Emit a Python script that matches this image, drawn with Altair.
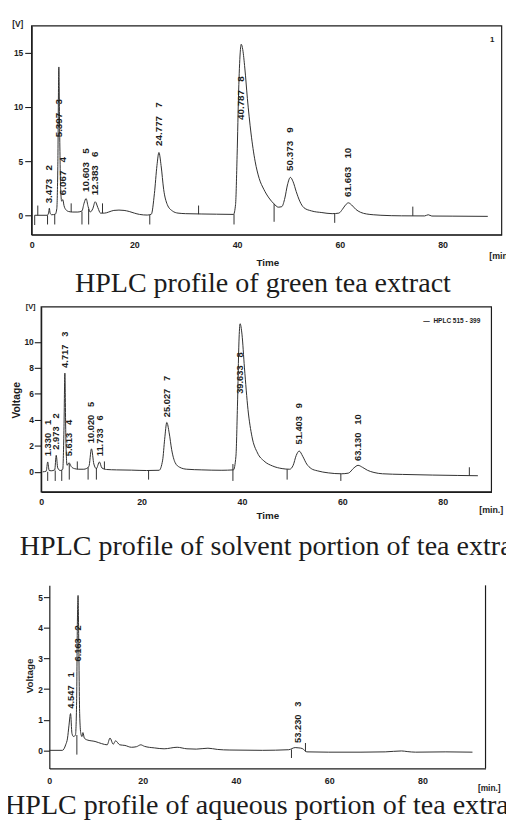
import altair as alt
import pandas as pd

# ---------------- green tea extract ----------------
green_time = [0.6, 3.0, 3.3, 3.45, 3.6, 3.9, 4.6, 4.9, 5.1, 5.3,
              5.45, 5.65, 5.85, 6.07, 6.3, 6.7, 7.2, 8.0, 9.0, 9.8,
              10.2, 10.6, 11.0, 11.4, 11.9, 12.38, 12.9, 13.4, 14.2, 15.0,
              16.0, 17.0, 18.0, 19.0, 20.0, 21.0, 22.5, 23.3, 23.9, 24.4,
              24.78, 25.2, 25.7, 26.4, 27.4, 28.5, 30.0, 33.0, 36.0, 39.3,
              39.7, 40.0, 40.3, 40.6, 40.8, 41.1, 41.5, 42.0, 42.7, 43.5,
              44.3, 45.2, 46.2, 47.2, 48.0, 48.7, 49.3, 49.8, 50.37, 50.9,
              51.5, 52.2, 53.0, 54.5, 56.5, 58.5, 59.8, 60.5, 61.1, 61.66,
              62.3, 63.1, 64.0, 65.2, 66.5, 68.0, 72.0, 76.5, 77.2, 77.9,
              82.0, 88.8]
green_volt = [0.0, 0.0, 0.2, 0.65, 0.2, 0.05, 0.1, 0.6, 4.5, 13.7,
              8.0, 2.5, 1.3, 1.45, 0.9, 0.5, 0.35, 0.3, 0.3, 0.4,
              1.1, 1.55, 0.8, 0.3, 0.6, 1.25, 0.7, 0.2, 0.2, 0.3,
              0.45, 0.48, 0.45, 0.35, 0.2, 0.08, 0.02, 0.1, 2.0, 4.6,
              5.8, 4.6, 2.4, 1.0, 0.4, 0.2, 0.15, 0.12, 0.1, 0.08,
              1.0, 5.5, 11.5, 15.0, 15.8, 15.3, 13.6, 10.8, 7.6, 5.0,
              3.4, 2.4, 1.6, 1.05, 0.75, 0.8, 1.6, 2.8, 3.5, 3.1,
              2.2, 1.3, 0.7, 0.4, 0.25, 0.15, 0.2, 0.55, 0.95, 1.15,
              0.95, 0.55, 0.28, 0.12, 0.05, 0.0, -0.05, -0.06, 0.05, -0.07,
              -0.08, -0.1]
green_rt = [3.473, 5.397, 6.067, 10.603, 12.383, 24.777, 40.787, 50.373, 61.663]
green_no = [2, 3, 4, 5, 6, 7, 8, 9, 10]
green_lab_v = [1.1, 7.2, 1.85, 2.15, 1.85, 6.4, 8.8, 4.1, 1.7]
green_mark_t = [0.6, 1.2, 3.1, 4.5, 7.7, 9.8, 11.1, 13.8, 23.0, 32.5, 39.4, 47.2, 59.0, 74.2]
green_mark_lo = [-0.9, 0.0, -0.85, -0.85, 0.3, -0.85, -0.85, 0.2, -0.85, 0.1, -0.85, -0.6, -0.7, -0.05]
green_mark_hi = [0.0, 0.9, 0.0, 0.1, 1.1, 0.35, 0.6, 1.1, 0.05, 0.9, 0.1, 1.05, 0.15, 0.8]

# ---------------- solvent portion ----------------
solv_time = [0.3, 1.0, 1.3, 1.6, 2.0, 2.7, 3.0, 3.3, 3.8, 4.3,
             4.55, 4.72, 4.9, 5.15, 5.56, 6.0, 6.6, 7.5, 8.5, 9.5,
             10.02, 10.5, 11.0, 11.6, 12.1, 13.0, 15.0, 18.0, 21.0, 23.5,
             24.2, 24.6, 25.03, 25.5, 26.0, 26.7, 27.6, 29.0, 32.0, 36.0,
             38.3, 38.8, 39.1, 39.4, 39.63, 40.0, 40.5, 41.2, 42.0, 43.1,
             44.4, 46.1, 48.0, 49.5, 50.2, 50.8, 51.4, 52.1, 52.9, 53.8,
             55.0, 57.2, 59.8, 61.2, 62.3, 63.13, 64.0, 65.0, 66.3, 68.0,
             72.0, 78.0, 83.0, 87.0]
solv_volt = [0.0, 0.05, 0.76, 0.1, 0.08, 0.15, 1.27, 0.3, 0.1, 0.2,
             3.5, 7.6, 3.0, 0.5, 0.7, 0.4, 0.25, 0.2, 0.2, 0.4,
             1.77, 0.6, 0.25, 0.76, 0.3, 0.18, 0.15, 0.13, 0.1, 0.12,
             0.9, 2.5, 3.8, 3.0, 1.7, 0.7, 0.35, 0.2, 0.15, 0.12,
             0.15, 1.2, 5.0, 10.0, 11.4, 10.6, 8.0, 4.8, 2.7, 1.45,
             0.83, 0.45, 0.25, 0.2, 0.5, 1.25, 1.6, 1.2, 0.6, 0.25,
             0.08, -0.08, -0.15, -0.1, 0.3, 0.5, 0.35, 0.12, -0.05, -0.15,
             -0.2, -0.25, -0.28, -0.3]
solv_rt = [1.330, 2.973, 4.717, 5.613, 10.020, 11.733, 25.027, 39.633, 51.403, 63.130]
solv_no = [1, 2, 3, 4, 5, 6, 7, 8, 9, 10]
solv_lab_v = [1.2, 1.7, 8.0, 1.2, 2.2, 1.2, 4.2, 6.0, 2.1, 0.83]
solv_mark_t = [1.3, 2.8, 4.1, 5.6, 7.2, 9.35, 11.0, 12.6, 21.4, 38.2, 49.0, 59.7, 85.3]
solv_mark_lo = [-0.7, -0.7, -0.7, -0.6, 0.2, -0.6, -0.6, 0.2, -0.6, -0.7, -0.6, -0.7, -0.3]
solv_mark_hi = [0.0, 0.1, 0.15, 0.6, 0.8, 0.35, 0.3, 0.8, 0.1, 0.6, 0.2, -0.15, 0.35]

# ---------------- aqueous portion ----------------
aq_time = [0.0, 2.8, 3.5, 3.9, 4.2, 4.55, 4.85, 5.2, 5.6, 5.85,
           6.0, 6.16, 6.3, 6.5, 6.75, 7.0, 7.2, 7.5, 8.1, 9.8,
           11.2, 12.4, 13.0, 13.7, 14.2, 15.1, 16.2, 17.6, 18.7, 19.6,
           20.4, 22.5, 24.6, 27.4, 29.5, 31.5, 34.0, 36.0, 38.7, 45.7,
           51.3, 52.7, 53.5, 54.2, 55.2, 59.8, 66.8, 72.0, 75.5, 76.7,
           78.5, 85.0, 90.7]
aq_volt = [0.0, 0.0, 0.18, 0.4, 0.8, 1.2, 0.55, 0.45, 0.5, 1.6,
           4.0, 5.06, 3.6, 1.2, 0.55, 0.45, 0.58, 0.4, 0.34, 0.29,
           0.22, 0.18, 0.4, 0.2, 0.31, 0.18, 0.16, 0.1, 0.12, 0.18,
           0.13, 0.08, 0.05, 0.1, 0.05, 0.04, 0.07, 0.03, 0.01, 0.0,
           0.02, 0.09, 0.08, 0.06, -0.05, -0.06, -0.06, -0.05, -0.02, -0.04,
           -0.06, -0.05, -0.06]
aq_rt = [4.547, 6.163, 53.230]
aq_no = [1, 2, 3]
aq_lab_v = [1.36, 2.9, 0.24]
aq_mark_t = [5.9, 51.9, 54.9]
aq_mark_lo = [-0.14, -0.25, -0.04]
aq_mark_hi = [0.5, 0.03, 0.24]

x_ticks = [0, 20, 40, 60, 80]

assert len(green_time) == len(green_volt)
assert len(solv_time) == len(solv_volt)
assert len(aq_time) == len(aq_volt)

W, H = 506, 823
INK = "#1c1c1c"
TRACE = "#2e2e2e"
SANS = "Liberation Sans"
SERIF = "Liberation Serif"
NB = "\u00a0"


def panel(time, volt, rt, no, lab_v, mk_t, mk_lo, mk_hi,
          xdom, xrng, ydom, yrng, yvals, ytick, ypad, xpad,
          lsize, lweight, frame, ylsize):
    xs = alt.Scale(domain=xdom, range=xrng, nice=False, zero=False)
    ys = alt.Scale(domain=ydom, range=yrng, nice=False, zero=False)
    xax = alt.Axis(orient="bottom", offset=yrng[0] - H, values=x_ticks, title=None,
                   grid=False, tickSize=0, labelPadding=xpad, labelFontSize=9,
                   labelFontWeight="bold", labelFlush=False, domainWidth=1.2,
                   format="d", labelFont=SANS, labelColor=INK, domainColor=INK)
    yax = alt.Axis(orient="left", offset=-xrng[0], values=yvals, title=None,
                   grid=False, tickSize=ytick, labelPadding=ypad, labelFontSize=ylsize,
                   labelFontWeight="bold", labelFlush=False, domainWidth=1.2,
                   format="d", labelFont=SANS, labelColor=INK, domainColor=INK,
                   tickColor=INK, tickWidth=1.1)

    def X(f):
        return alt.X(f, type="quantitative", scale=xs, axis=xax)

    def Y(f):
        return alt.Y(f, type="quantitative", scale=ys, axis=yax)

    layers = []
    if frame:
        fr = pd.DataFrame({"t": [xdom[0]], "t2": [xdom[1]], "lo": [ydom[0]], "hi": [ydom[1]]})
        layers.append(alt.Chart(fr).mark_rect(fillOpacity=0, stroke=INK, strokeWidth=1.2)
                      .encode(x=X("t"), x2=alt.X2("t2"), y=Y("lo"), y2=alt.Y2("hi")))
    else:
        fr = pd.DataFrame({"t": [xdom[1]], "lo": [ydom[0]], "hi": [ydom[1]]})
        layers.append(alt.Chart(fr).mark_rule(color=INK, strokeWidth=1.2)
                      .encode(x=X("t"), y=Y("lo"), y2=alt.Y2("hi")))
    tr = pd.DataFrame({"t": time, "v": volt})
    layers.append(alt.Chart(tr).mark_line(color=TRACE, strokeWidth=1, interpolate="monotone")
                  .encode(x=X("t"), y=Y("v")))
    mk = pd.DataFrame({"t": mk_t, "lo": mk_lo, "hi": mk_hi})
    layers.append(alt.Chart(mk).mark_rule(color=TRACE, strokeWidth=1)
                  .encode(x=X("t"), y=Y("lo"), y2=alt.Y2("hi")))
    lab = pd.DataFrame({"t": rt, "v": lab_v,
                        "s": [f"{r:.3f}{NB*3}{n}" for r, n in zip(rt, no)]})
    layers.append(alt.Chart(lab).mark_text(angle=270, align="left", baseline="middle",
                                           fontSize=lsize, fontWeight=lweight, font=SANS,
                                           color=INK)
                  .encode(x=X("t"), y=Y("v"), text="s:N"))
    return alt.layer(*layers)


def note(s, x, y, size, weight="bold", angle=0, align="center", baseline="middle",
         font=SANS, color=INK):
    kw = dict(fontSize=size, fontWeight=weight, align=align, baseline=baseline,
              font=font, color=color)
    if angle:
        kw["angle"] = angle
    return (alt.Chart(pd.DataFrame({"s": [s]})).mark_text(**kw)
            .encode(text="s:N", x=alt.value(x), y=alt.value(y)))


p1 = panel(green_time, green_volt, green_rt, green_no, green_lab_v,
           green_mark_t, green_mark_lo, green_mark_hi,
           xdom=[0, 91.5], xrng=[24, 501.6], ydom=[-1.8, 17.5], yrng=[223.8, 11.5],
           yvals=[0, 5, 10, 15], ytick=7, ypad=2, xpad=6,
           lsize=10, lweight="bold", frame=True, ylsize=8.5)
p2 = panel(solv_time, solv_volt, solv_rt, solv_no, solv_lab_v,
           solv_mark_t, solv_mark_lo, solv_mark_hi,
           xdom=[0, 89.7], xrng=[33.7, 491.2], ydom=[-1.54, 12.7], yrng=[485, 297],
           yvals=[0, 2, 4, 6, 8, 10], ytick=7, ypad=1, xpad=6,
           lsize=9.5, lweight="bold", frame=True, ylsize=8.5)
p3 = panel(aq_time, aq_volt, aq_rt, aq_no, aq_lab_v,
           aq_mark_t, aq_mark_lo, aq_mark_hi,
           xdom=[0, 93.5], xrng=[42, 485.2], ydom=[-0.59, 5.39], yrng=[766, 580],
           yvals=[0, 1, 2, 3, 4, 5], ytick=6, ypad=1, xpad=8,
           lsize=9.5, lweight="bold", frame=False, ylsize=8.5)

notes = [
    note("[V]", 10, 10, 8.5),
    note("Time", 264, 253, 10),
    note("[min.]", 489, 245, 9, align="left"),
    note("1", 492, 26, 8),
    note("HPLC profile of green tea extract", 259, 282, 28.5, weight="normal",
         baseline="alphabetic", font=SERIF),
    note("[V]", 23, 297, 7.5),
    note("Voltage", 9, 392, 10.5, angle=270),
    note("Time", 264, 510, 10),
    note("[min.]", 491, 503, 9),
    note("\u2014" + NB * 2 + "HPLC 515 - 399", 422, 311, 6.6, align="left"),
    note("HPLC profile of solvent portion of tea extract", 12, 549, 28.5, weight="normal",
         align="left", baseline="alphabetic", font=SERIF),
    note("Voltage", 22, 672, 10, angle=270),
    note("[min.]", 489, 786, 8.5),
    note("HPLC profile of aqueous portion of tea extract", -3, 812, 28.5, weight="normal",
         align="left", baseline="alphabetic", font=SERIF),
]

chart = (alt.layer(p1, p2, p3, *notes)
         .resolve_scale(x="independent", y="independent")
         .properties(width=W, height=H, padding=0, background="white",
                     autosize=alt.AutoSizeParams(type="none"))
         .configure_view(stroke=None))

chart.save("out.html", embed_options={"renderer": "svg", "actions": False})
